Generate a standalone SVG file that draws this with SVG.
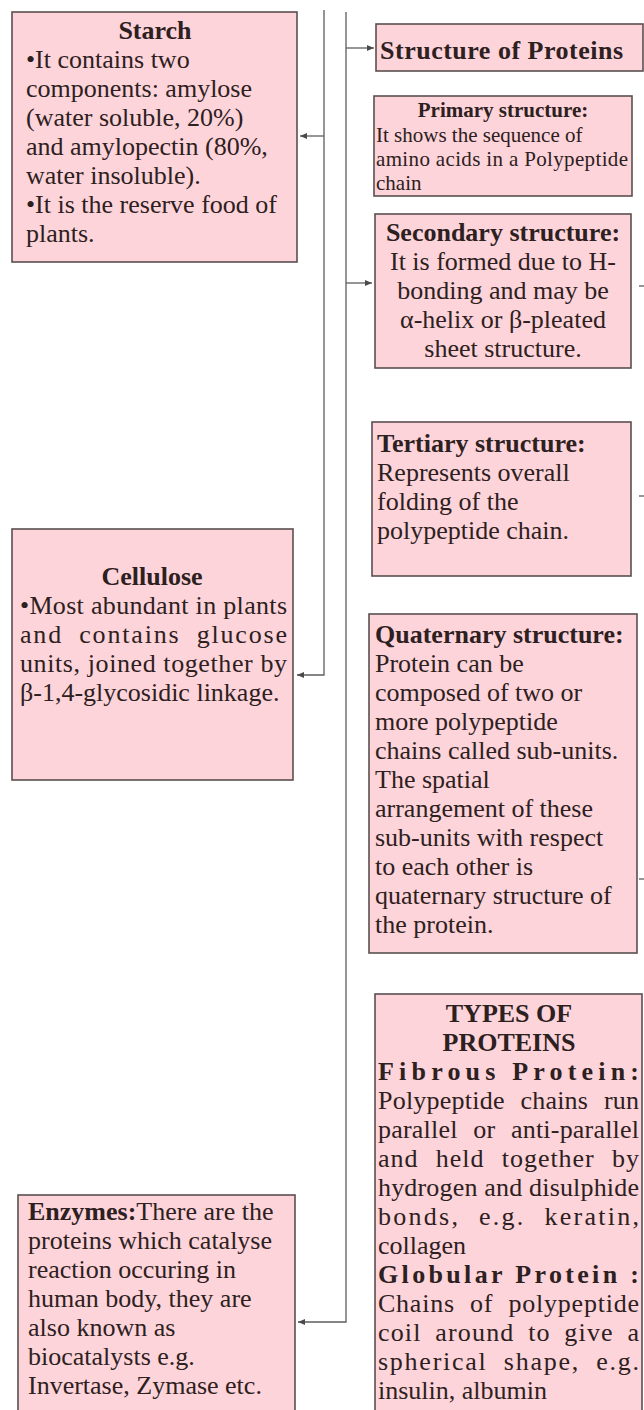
<svg xmlns="http://www.w3.org/2000/svg" width="644" height="1410" viewBox="0 0 644 1410">
<defs>
<style>
.box{fill:#fdd4da;stroke:#5b4f50;stroke-width:1.6}
.t{font-family:"Liberation Serif","Times New Roman",serif;font-size:26px;fill:#2d2020}
.s{font-size:21px}
.b{font-weight:bold}
.m{text-anchor:middle}
.c{fill:none;stroke:#5e5e5e;stroke-width:1.3}
</style>
<marker id="ah" markerWidth="8" markerHeight="6" refX="7" refY="3" orient="auto" markerUnits="userSpaceOnUse"><path d="M0,0 L7,3 L0,6 z" fill="#4a4a4a"/></marker>
</defs>
<rect width="644" height="1410" fill="#ffffff"/>
<g id="connectors" class="c">
<path d="M324,10 V675 H297" marker-end="url(#ah)"/>
<path d="M324,136 H300" marker-end="url(#ah)"/>
<path d="M346,12 V1322 H298" marker-end="url(#ah)"/>
<path d="M346,48 H374" marker-end="url(#ah)"/>
<path d="M346,283 H372" marker-end="url(#ah)"/>
<path d="M639,286 H644"/>
<path d="M639,496 H644"/>
<path d="M639,879 H644"/>
</g>
<g id="starch">
<rect class="box" x="12" y="12" width="285" height="250"/>
<text class="t b m" x="155" y="39">Starch</text>
<text class="t" x="26" y="68">•It contains two</text>
<text class="t" x="26" y="97">components: amylose</text>
<text class="t" x="26" y="126">(water soluble, 20%)</text>
<text class="t" x="26" y="155">and amylopectin (80%,</text>
<text class="t" x="26" y="184">water insoluble).</text>
<text class="t" x="26" y="213">•It is the reserve food of</text>
<text class="t" x="26" y="242">plants.</text>
</g>
<g id="structure-of-proteins">
<rect class="box" x="376" y="24" width="267" height="47"/>
<text class="t b" x="380" y="59" textLength="243">Structure of Proteins</text>
</g>
<g id="primary-structure">
<rect class="box" x="374" y="96" width="258" height="100"/>
<text class="t s b m" x="503" y="117">Primary structure:</text>
<text class="t s" x="376" y="142">It shows the sequence of</text>
<text class="t s" x="376" y="166" textLength="252">amino acids in a Polypeptide</text>
<text class="t s" x="376" y="190">chain</text>
</g>
<g id="secondary-structure">
<rect class="box" x="375" y="214" width="256" height="154"/>
<text class="t b m" x="503" y="241">Secondary structure:</text>
<text class="t m" x="503" y="270">It is formed due to H-</text>
<text class="t m" x="503" y="299">bonding and may be</text>
<text class="t m" x="503" y="328">α-helix or β-pleated</text>
<text class="t m" x="503" y="357">sheet structure.</text>
</g>
<g id="tertiary-structure">
<rect class="box" x="372" y="422" width="259" height="154"/>
<text class="t b" x="377" y="452">Tertiary structure:</text>
<text class="t" x="377" y="481">Represents overall</text>
<text class="t" x="377" y="510">folding of the</text>
<text class="t" x="377" y="539">polypeptide chain.</text>
</g>
<g id="cellulose">
<rect class="box" x="12" y="529" width="281" height="251"/>
<text class="t b m" x="152" y="585">Cellulose</text>
<text class="t" x="20" y="614" textLength="267">•Most abundant in plants</text>
<text class="t" x="20" y="643" textLength="267" word-spacing="8">and contains glucose</text>
<text class="t" x="20" y="672" textLength="267">units, joined together by</text>
<text class="t" x="20" y="701">β-1,4-glycosidic linkage.</text>
</g>
<g id="quaternary-structure">
<rect class="box" x="369" y="614" width="268" height="339"/>
<text class="t b" x="375" y="643">Quaternary structure:</text>
<text class="t" x="375" y="672">Protein can be</text>
<text class="t" x="375" y="701">composed of two or</text>
<text class="t" x="375" y="730">more polypeptide</text>
<text class="t" x="375" y="759">chains called sub-units.</text>
<text class="t" x="375" y="788">The spatial</text>
<text class="t" x="375" y="817">arrangement of these</text>
<text class="t" x="375" y="846">sub-units with respect</text>
<text class="t" x="375" y="875">to each other is</text>
<text class="t" x="375" y="904">quaternary structure of</text>
<text class="t" x="375" y="933">the protein.</text>
</g>
<g id="types-of-proteins">
<rect class="box" x="375" y="994" width="267" height="430"/>
<text class="t b m" x="509" y="1022">TYPES OF</text>
<text class="t b m" x="509" y="1051">PROTEINS</text>
<text class="t b" x="378" y="1080" textLength="261">Fibrous Protein:</text>
<text class="t" x="378" y="1109" textLength="261" word-spacing="9">Polypeptide chains run</text>
<text class="t" x="378" y="1138" textLength="261" word-spacing="9">parallel or anti-parallel</text>
<text class="t" x="378" y="1167" textLength="261" word-spacing="10">and held together by</text>
<text class="t" x="378" y="1196" textLength="261">hydrogen and disulphide</text>
<text class="t" x="378" y="1225" textLength="261" word-spacing="10">bonds, e.g. keratin,</text>
<text class="t" x="378" y="1254">collagen</text>
<text class="t b" x="378" y="1283" textLength="261">Globular Protein :</text>
<text class="t" x="378" y="1312" textLength="261" word-spacing="8">Chains of polypeptide</text>
<text class="t" x="378" y="1341" textLength="261" word-spacing="6">coil around to give a</text>
<text class="t" x="378" y="1370" textLength="261" word-spacing="8">spherical shape, e.g.</text>
<text class="t" x="378" y="1399">insulin, albumin</text>
</g>
<g id="enzymes">
<rect class="box" x="18" y="1195" width="277" height="230"/>
<text class="t" x="28" y="1220"><tspan class="b">Enzymes:</tspan>There are the</text>
<text class="t" x="28" y="1249">proteins which catalyse</text>
<text class="t" x="28" y="1278">reaction occuring in</text>
<text class="t" x="28" y="1307">human body, they are</text>
<text class="t" x="28" y="1336">also known as</text>
<text class="t" x="28" y="1365">biocatalysts e.g.</text>
<text class="t" x="28" y="1394">Invertase, Zymase etc.</text>
</g>
</svg>
